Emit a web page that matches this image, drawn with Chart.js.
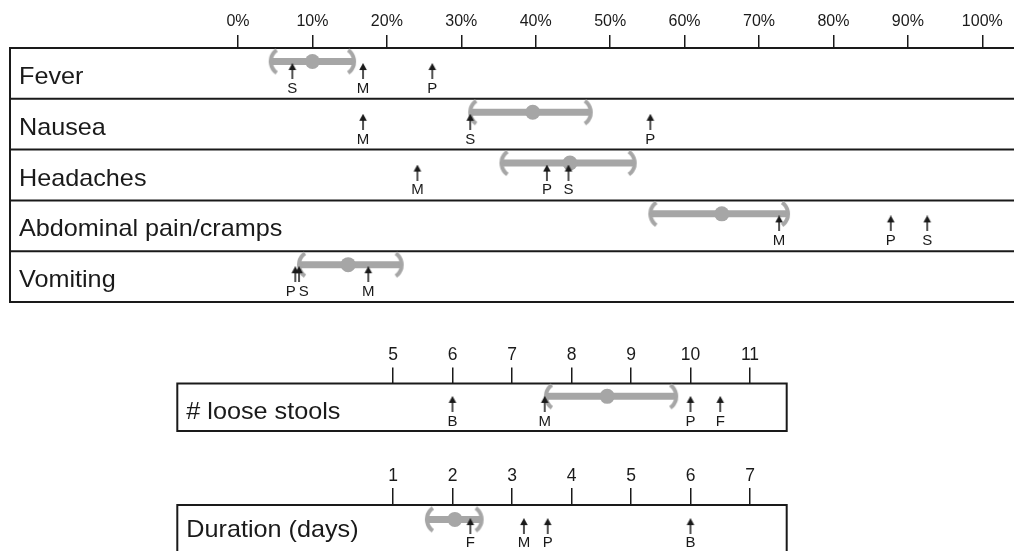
<!DOCTYPE html>
<html>
<head>
<meta charset="utf-8">
<script src="https://cdn.jsdelivr.net/npm/chart.js@4.4.1/dist/chart.umd.min.js"></script>
<style>
  body { margin: 0; background: #fff; overflow: hidden; }
  .panel { position: absolute; left: 0; width: 1014px; }
</style>
</head>
<body>
<div class="panel" style="top:0;height:314px"><canvas id="symptomChart"></canvas></div>
<div class="panel" style="top:330px;height:113px"><canvas id="stoolChart"></canvas></div>
<div class="panel" style="top:450px;height:115px"><canvas id="durationChart"></canvas></div>
<script>
// symptoms, % of cases
const symptoms = ['Fever', 'Nausea', 'Headaches', 'Abdominal pain/cramps', 'Vomiting'];
const symptomMean = [10.0, 39.6, 44.6, 65.0, 14.8];
const symptomLow = [4.4, 31.2, 35.4, 55.4, 8.2];
const symptomHigh = [15.6, 47.4, 53.3, 73.9, 22.0];
const symptomS = [7.3, 31.2, 44.4, 92.6, 8.2];
const symptomM = [16.8, 16.8, 24.1, 72.7, 17.5];
const symptomP = [26.1, 55.4, 41.5, 87.7, 7.7];
const percentTicks = [0, 10, 20, 30, 40, 50, 60, 70, 80, 90, 100];

// number of loose stools
const stoolLabel = ['# loose stools'];
const stoolMean = [8.6];
const stoolLow = [7.57];
const stoolHigh = [9.76];
const stoolB = [6.0];
const stoolM = [7.55];
const stoolP = [10.0];
const stoolF = [10.5];
const stoolTicks = [5, 6, 7, 8, 9, 10, 11];

// duration of illness, days
const durationLabel = ['Duration (days)'];
const durationMean = [2.04];
const durationLow = [1.57];
const durationHigh = [2.49];
const durationF = [2.3];
const durationM = [3.2];
const durationP = [3.6];
const durationB = [6.0];
const durationTicks = [1, 2, 3, 4, 5, 6, 7];

const GREY = '#a6a6a6';
const INK = '#1a1a1a';
const SANS = '"Liberation Sans", Arial, Helvetica, sans-serif';
const NARROW = '"Liberation Sans Narrow", "Liberation Sans", Arial, sans-serif';

Chart.defaults.color = INK;

function makeArrow() {
  const c = document.createElement('canvas');
  c.width = 10; c.height = 16;
  const g = c.getContext('2d');
  g.fillStyle = INK;
  g.beginPath();
  g.moveTo(5, 0); g.lineTo(8.8, 7); g.lineTo(1.2, 7);
  g.closePath();
  g.fill();
  g.fillRect(4.25, 6, 1.5, 10);
  return c;
}

function makeBracket(left) {
  const c = document.createElement('canvas');
  c.width = 24; c.height = 30;
  const g = c.getContext('2d');
  const r = 14, a = 0.96;
  g.strokeStyle = GREY;
  g.lineWidth = 4;
  g.beginPath();
  if (left) g.arc(12 + r, 15, r, Math.PI - a, Math.PI + a);
  else g.arc(12 - r, 15, r, -a, a);
  g.stroke();
  return c;
}

const arrowIcon = makeArrow();
const bracketLeft = makeBracket(true);
const bracketRight = makeBracket(false);

// box, row lines, row names, and the letters under the arrows
const framePlugin = {
  id: 'frame',
  beforeDatasetsDraw(chart, args, o) {
    const ctx = chart.ctx, area = chart.chartArea, y = chart.scales.y;
    const rows = o.labels.length;
    ctx.save();
    ctx.strokeStyle = INK;
    ctx.lineWidth = 2;
    ctx.beginPath();
    for (let i = 0; i <= rows; i++) {
      const py = y.getPixelForValue(i);
      ctx.moveTo(o.left, py);
      ctx.lineTo(o.right, py);
    }
    ctx.moveTo(o.left, area.top - 1);
    ctx.lineTo(o.left, area.bottom + 1);
    if (o.closed) {
      ctx.moveTo(o.right, area.top - 1);
      ctx.lineTo(o.right, area.bottom + 1);
    }
    ctx.stroke();

    ctx.fillStyle = INK;
    ctx.font = '24px ' + SANS;
    ctx.textBaseline = 'alphabetic';
    o.labels.forEach((label, i) => {
      ctx.save();
      ctx.translate(o.left + 9, y.getPixelForValue(i + o.labelAt));
      ctx.scale(1.05, 1);
      ctx.fillText(label, 0, 0);
      ctx.restore();
    });
    ctx.restore();
  },
  afterDatasetsDraw(chart, args, o) {
    const ctx = chart.ctx, y = chart.scales.y;
    const byRow = {};
    chart.data.datasets.forEach((ds, di) => {
      if (!ds.letter) return;
      chart.getDatasetMeta(di).data.forEach((pt, j) => {
        (byRow[j] = byRow[j] || []).push({ x: pt.x, letter: ds.letter });
      });
    });
    ctx.save();
    ctx.font = '15px ' + SANS;
    ctx.fillStyle = INK;
    ctx.textAlign = 'center';
    ctx.textBaseline = 'middle';
    Object.keys(byRow).forEach(row => {
      const marks = byRow[row].sort((a, b) => a.x - b.x);
      for (let k = 1; k < marks.length; k++) {
        const a = marks[k - 1], b = marks[k];
        if (b.x - a.x < 12) {
          const mid = (a.x + b.x) / 2;
          a.x = mid - 6.5;
          b.x = mid + 6.5;
        }
      }
      const py = y.getPixelForValue(+row + o.letterAt);
      marks.forEach(m => ctx.fillText(m.letter, m.x, py));
    });
    ctx.restore();
  }
};

function drawPanel(canvasId, cfg) {
  const rows = cfg.frame.labels.length;
  const datasets = [];
  cfg.arrows.forEach(a => datasets.push({
    type: 'scatter',
    letter: a.letter,
    data: a.values.map((v, i) => ({ x: v, y: i + cfg.arrowAt })),
    pointStyle: arrowIcon,
    pointRadius: 5,
    order: 1
  }));
  datasets.push({
    type: 'scatter',
    data: cfg.mean.map((v, i) => ({ x: v, y: i + cfg.barAt })),
    pointRadius: 7.5,
    backgroundColor: GREY,
    borderWidth: 0,
    order: 2
  });
  cfg.low.forEach((v, i) => datasets.push({
    type: 'line',
    data: [{ x: v, y: i + cfg.barAt }, { x: cfg.high[i], y: i + cfg.barAt }],
    borderColor: GREY,
    borderWidth: 7,
    borderCapStyle: 'butt',
    pointStyle: c => c.dataIndex === 0 ? bracketLeft : bracketRight,
    pointRadius: 5,
    order: 3
  }));

  new Chart(document.getElementById(canvasId), {
    type: 'scatter',
    data: { datasets: datasets },
    options: {
      responsive: true,
      maintainAspectRatio: false,
      animation: false,
      events: [],
      layout: { padding: cfg.padding },
      plugins: {
        legend: { display: false },
        tooltip: { enabled: false },
        frame: cfg.frame
      },
      scales: {
        x: {
          type: 'linear',
          position: 'top',
          min: cfg.ticks[0],
          max: cfg.ticks[cfg.ticks.length - 1],
          afterFit: s => { s.height = cfg.axisHeight; },
          afterBuildTicks: s => { s.ticks = cfg.ticks.map(v => ({ value: v })); },
          grid: { drawOnChartArea: false, tickLength: cfg.tickLength, color: INK, lineWidth: 1.5 },
          border: { display: false },
          ticks: {
            padding: cfg.tickPadding,
            color: INK,
            font: cfg.tickFont,
            maxRotation: 0,
            autoSkip: false,
            callback: cfg.tickFormat
          }
        },
        y: { type: 'linear', min: 0, max: rows, reverse: true, display: false }
      }
    },
    plugins: [framePlugin]
  });
}

drawPanel('symptomChart', {
  ticks: percentTicks,
  tickFormat: v => v + '%',
  tickFont: { family: SANS, size: 16 },
  tickLength: 13,
  tickPadding: 4,
  axisHeight: 48,
  padding: { left: 238, right: 31.7, top: 0, bottom: 0 },
  mean: symptomMean,
  low: symptomLow,
  high: symptomHigh,
  arrows: [
    { letter: 'S', values: symptomS },
    { letter: 'M', values: symptomM },
    { letter: 'P', values: symptomP }
  ],
  barAt: 0.265,
  arrowAt: 0.453,
  frame: { labels: symptoms, left: 10, right: 1020, closed: false, labelAt: 0.71, letterAt: 0.8 }
});

drawPanel('stoolChart', {
  ticks: stoolTicks,
  tickFormat: v => String(v),
  tickFont: { family: NARROW, size: 17.5 },
  tickLength: 16,
  tickPadding: 1.5,
  axisHeight: 53.5,
  padding: { left: 393, right: 264, top: 0, bottom: 0 },
  mean: stoolMean,
  low: stoolLow,
  high: stoolHigh,
  arrows: [
    { letter: 'B', values: stoolB },
    { letter: 'M', values: stoolM },
    { letter: 'P', values: stoolP },
    { letter: 'F', values: stoolF }
  ],
  barAt: 0.27,
  arrowAt: 0.43,
  frame: { labels: stoolLabel, left: 177.3, right: 786.7, closed: true, labelAt: 0.75, letterAt: 0.8 }
});

drawPanel('durationChart', {
  ticks: durationTicks,
  tickFormat: v => String(v),
  tickFont: { family: NARROW, size: 17.5 },
  tickLength: 17,
  tickPadding: 1,
  axisHeight: 55,
  padding: { left: 393, right: 264, top: 0, bottom: 0 },
  mean: durationMean,
  low: durationLow,
  high: durationHigh,
  arrows: [
    { letter: 'F', values: durationF },
    { letter: 'M', values: durationM },
    { letter: 'P', values: durationP },
    { letter: 'B', values: durationB }
  ],
  barAt: 0.3,
  arrowAt: 0.44,
  frame: { labels: durationLabel, left: 177.3, right: 786.7, closed: true, labelAt: 0.66, letterAt: 0.78 }
});
</script>
</body>
</html>
